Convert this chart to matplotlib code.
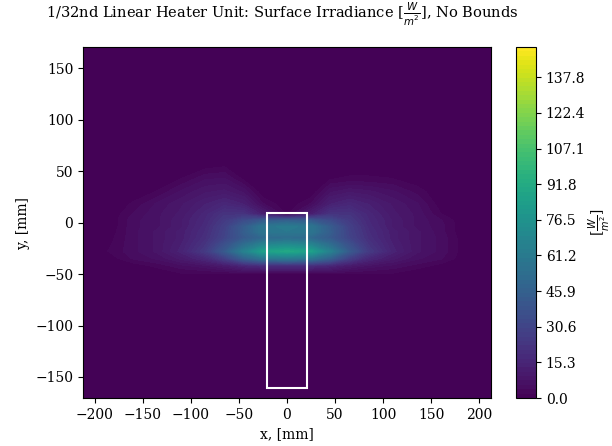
import numpy as np
import matplotlib
matplotlib.use("Agg")
import matplotlib.pyplot as plt
from matplotlib.patches import Rectangle

plt.rcParams['font.family'] = ['DejaVu Serif']

# grid positions (mm)
x_mm = [-212, -185, -160, -135, -110, -85, -65, -45, -25, 0, 25, 45, 65, 85, 110, 135, 160, 185, 212]
y_mm = [-171, -65, -50, -42, -35, -28, -21, -15, -9, -4, 2, 8, 18, 30, 42, 55, 70, 171]

# irradiance values [W/m^2], rows follow y_mm, columns follow x_mm
row_m171 = [0] * 19
row_m65 = [0] * 19
row_m50 = [0, 0, 0, 0, 1.5, 1.5, 1.5, 1.5, 1.5, 1.5, 1.5, 1.5, 1.5, 1.5, 1.5, 0, 0, 0, 0]
row_m42 = [0, 0, 0.5, 2.5, 5, 7, 10, 15, 18, 18, 18, 15, 10, 7, 5, 3, 1, 0, 0]
row_m35 = [0, 0.5, 4, 6, 10, 16, 27, 45, 58, 60, 58, 45, 27, 16, 10, 6, 4, 0.3, 0]
row_m28 = [0, 2.0, 5, 8, 14, 25, 42, 65, 85, 90, 85, 65, 42, 25, 14, 8, 5, 0.5, 0]
row_m21 = [0, 1.5, 5, 8, 13, 22, 36, 52, 66, 70, 66, 52, 36, 22, 13, 8, 5, 0.5, 0]
row_m15 = [0, 1, 5, 8, 12, 20, 30, 42, 50, 52, 50, 42, 30, 20, 12, 8, 5, 0.3, 0]
row_m9 = [0, 0.5, 5, 8, 12, 19, 29, 44, 58, 60, 58, 44, 29, 19, 12, 8, 4.5, 0, 0]
row_m4 = [0, 0, 5, 7, 11, 18, 28, 43, 58, 62, 58, 43, 28, 18, 11, 7, 4.5, 0, 0]
row_p2 = [0, 0, 5, 7, 11, 17, 25, 34, 42, 45, 42, 34, 25, 17, 11, 7, 4, 0, 0]
row_p8 = [0, 0, 4, 7, 10, 16, 22, 22, 12, 1.5, 12, 22, 22, 16, 10, 7, 2, 0, 0]
row_p18 = [0, 0, 2.2, 6, 9, 13, 16, 13, 4, 0, 4, 13, 16, 13, 9, 6, 0.5, 0, 0]
row_p30 = [0, 0, 0.5, 2.0, 6, 9, 10, 7, 0, 0, 0, 7, 9, 8, 6, 3, 0, 0, 0]
row_p42 = [0, 0, 0, 0, 2.0, 5.5, 6, 1.5, 0, 0, 0, 1.8, 2.5, 2.5, 2.0, 0.5, 0, 0, 0]
row_p55 = [0, 0, 0, 0, 0, 0.8, 1.6, 0, 0, 0, 0, 0, 0, 0, 0, 0, 0, 0, 0]
row_p70 = [0] * 19
row_p171 = [0] * 19

irradiance = [row_m171, row_m65, row_m50, row_m42, row_m35, row_m28, row_m21,
              row_m15, row_m9, row_m4, row_p2, row_p8, row_p18, row_p30,
              row_p42, row_p55, row_p70, row_p171]

# heater outline (mm)
heater_x = [-21, 21]
heater_y = [-161, 9]

cbar_ticks = [0.0, 15.3, 30.6, 45.9, 61.2, 76.5, 91.8, 107.1, 122.4, 137.8]
z_max = 150.7

fig = plt.figure(figsize=(6.12, 4.46), dpi=100)
ax = fig.add_axes([0.1356, 0.1076, 0.6667, 0.787])
cax = fig.add_axes([0.8431, 0.1076, 0.0327, 0.787])

X, Y = np.meshgrid(x_mm, y_mm)
Z = np.array(irradiance, dtype=float)
levels = np.linspace(0, z_max, 81)
cs = ax.contourf(X, Y, Z, levels=levels, cmap='viridis')

ax.add_patch(Rectangle((heater_x[0], heater_y[0]), heater_x[1] - heater_x[0],
                       heater_y[1] - heater_y[0], fill=False, edgecolor='white',
                       linewidth=1.5))

ax.set_xlim(-212, 212)
ax.set_ylim(-170.4, 170.4)
ax.set_xticks(np.arange(-200, 201, 50))
ax.set_yticks(np.arange(-150, 151, 50))
ax.set_xlabel('x, [mm]')
ax.set_ylabel('y, [mm]')
ax.set_title(r'1/32nd Linear Heater Unit: Surface Irradiance [$\frac{W}{m^2}$], No Bounds',
             pad=21, fontsize=10.5, x=0.488)

cb = fig.colorbar(cs, cax=cax)
cb.set_ticks(cbar_ticks)
cb.set_ticklabels([f'{t:.1f}' for t in cbar_ticks])
cb.set_label(r'[$\frac{W}{m^2}$]', labelpad=1)

fig.savefig('out.png', dpi=100)
